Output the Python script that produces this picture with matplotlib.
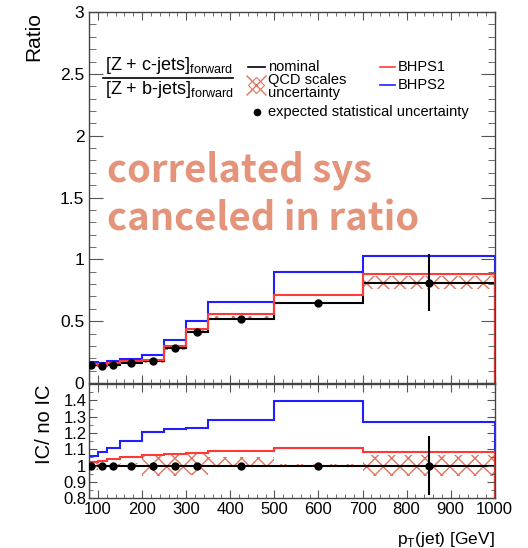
import matplotlib.pyplot as plt
from matplotlib.lines import Line2D
from matplotlib.ticker import MultipleLocator, FuncFormatter
import numpy as np

plt.rcParams['font.family'] = ['Liberation Sans', 'DejaVu Sans']
plt.rcParams['hatch.linewidth'] = 1.0

# pT(jet) bin edges [GeV]
edges = [80, 100, 120, 150, 200, 250, 300, 350, 500, 700, 1000]
pt_points = [85, 110, 135, 175, 225, 275, 325, 425, 600, 850]

# top panel: [Z+c]/[Z+b] ratio
nominal = [0.145, 0.135, 0.145, 0.160, 0.175, 0.285, 0.410, 0.514, 0.648, 0.812]
bhps1 = [0.153, 0.140, 0.159, 0.177, 0.190, 0.300, 0.435, 0.562, 0.710, 0.879]
bhps2 = [0.172, 0.164, 0.177, 0.193, 0.226, 0.347, 0.500, 0.656, 0.898, 1.024]
stat_err = [0.005, 0.005, 0.005, 0.005, 0.005, 0.005, 0.005, 0.005, 0.02, 0.23]

# bottom panel: IC / no IC
ic_bhps1 = [1.021, 1.030, 1.039, 1.051, 1.065, 1.071, 1.075, 1.090, 1.110, 1.085]
ic_bhps2 = [1.061, 1.085, 1.108, 1.148, 1.209, 1.222, 1.228, 1.278, 1.394, 1.268]
ic_nominal = [1.0] * 10
ic_stat_err = [0.005, 0.005, 0.005, 0.005, 0.005, 0.005, 0.005, 0.005, 0.015, 0.18]

# QCD scale uncertainty (relative, up / down)
qcd_up = [0.02, 0.01, 0.01, 0.015, 0.07, 0.07, 0.07, 0.05, 0.01, 0.065]
qcd_dn = [0.03, 0.01, 0.01, 0.015, 0.065, 0.065, 0.06, 0.005, 0.01, 0.065]

red = '#ff3838'
blue = '#1f1fff'
hatch_col = '#e2745a'
note_col = '#e4947a'

fig = plt.figure(figsize=(5.28, 5.48), dpi=100)
ax1 = fig.add_axes([0.169, 0.301, 0.768, 0.677])
ax2 = fig.add_axes([0.169, 0.091, 0.768, 0.208])

nom = np.array(nominal)
up = np.array(qcd_up)
dn = np.array(qcd_dn)

# top panel
ax1.stairs(nom * (1 + up), edges, baseline=nom * (1 - dn), fill=True,
           facecolor='none', edgecolor=hatch_col, hatch='xx', linewidth=0)
ax1.stairs(nominal, edges, color='black', linewidth=1.5)
ax1.stairs(bhps2, edges, color=blue, linewidth=1.5)
ax1.stairs(bhps1, edges, color=red, linewidth=1.5)
ax1.errorbar(pt_points, nominal, yerr=stat_err, fmt='o', color='black',
             markersize=5, elinewidth=1.5, capsize=0, zorder=5)

# bottom panel
ax2.stairs(1 + up, edges, baseline=1 - dn, fill=True,
           facecolor='none', edgecolor=hatch_col, hatch='xx', linewidth=0)
ax2.stairs(ic_nominal, edges, color='black', linewidth=1.5)
ax2.stairs(ic_bhps2, edges, color=blue, linewidth=1.5)
ax2.stairs(ic_bhps1, edges, color=red, linewidth=1.5)
ax2.errorbar(pt_points, ic_nominal, yerr=ic_stat_err, fmt='o', color='black',
             markersize=5, elinewidth=1.5, capsize=0, zorder=5)

fmt = FuncFormatter(lambda v, p: '%g' % round(v, 3))

ax1.set_xlim(80, 1000)
ax1.set_ylim(0, 3)
ax1.xaxis.set_major_locator(MultipleLocator(100))
ax1.xaxis.set_minor_locator(MultipleLocator(20))
ax1.yaxis.set_major_locator(MultipleLocator(0.5))
ax1.yaxis.set_minor_locator(MultipleLocator(0.1))
ax1.yaxis.set_major_formatter(fmt)
ax1.tick_params(axis='x', which='both', labelbottom=False)
ax1.tick_params(axis='x', which='major', length=6)
ax1.tick_params(axis='x', which='minor', length=3)
ax1.tick_params(axis='y', which='major', length=10, labelsize=12.5)
ax1.tick_params(axis='y', which='minor', length=5)
ax1.set_ylabel('Ratio', loc='top', fontsize=15, labelpad=12)

ax2.set_xlim(80, 1000)
ax2.set_ylim(0.8, 1.5)
ax2.xaxis.set_major_locator(MultipleLocator(100))
ax2.xaxis.set_minor_locator(MultipleLocator(20))
ax2.yaxis.set_major_locator(MultipleLocator(0.1))
ax2.yaxis.set_minor_locator(MultipleLocator(0.05))
ax2.yaxis.set_major_formatter(fmt)
ax2.set_yticks([0.8, 0.9, 1.0, 1.1, 1.2, 1.3, 1.4])
ax2.tick_params(axis='both', which='major', labelsize=12)
ax2.tick_params(axis='x', which='major', length=6, pad=3)
ax2.tick_params(axis='x', which='minor', length=3)
ax2.tick_params(axis='y', which='major', length=6, pad=2)
ax2.tick_params(axis='y', which='minor', length=3)
ax2.set_ylabel('IC/ no IC', loc='top', fontsize=14.5, labelpad=7)
ax2.set_xlabel(r'p$_\mathregular{T}$(jet) [GeV]', loc='right', fontsize=12.5,
               labelpad=9)

for ax in (ax1, ax2):
    ax.tick_params(which='both', direction='in', top=True, right=True,
                   color='#555555')
    for s in ax.spines.values():
        s.set_color('#444444')
        s.set_linewidth(1.0)

# fraction label
ax1.text(0.039, 0.857, r'[Z + c-jets]$_\mathregular{forward}$', transform=ax1.transAxes,
         fontsize=13, va='center', ha='left')
ax1.add_line(Line2D([0.034, 0.354], [0.823, 0.823], transform=ax1.transAxes,
                    color='black', linewidth=1.2))
ax1.text(0.039, 0.79, r'[Z + b-jets]$_\mathregular{forward}$', transform=ax1.transAxes,
         fontsize=13, va='center', ha='left')

# legend
leg_fs = 10.5
ax1.add_line(Line2D([0.392, 0.434], [0.853, 0.853], transform=ax1.transAxes,
                    color='black', linewidth=1.2))
ax1.text(0.441, 0.853, 'nominal', transform=ax1.transAxes, fontsize=leg_fs, va='center')
ax1.plot([0.412], [0.804], marker='x', markersize=14, mew=1.0, color=hatch_col,
         transform=ax1.transAxes, clip_on=False)
ax1.plot([0.412], [0.804], marker='D', markersize=8, mew=0.8, mfc='none', color=hatch_col,
         transform=ax1.transAxes, clip_on=False)
ax1.text(0.441, 0.800, 'QCD scales\nuncertainty', transform=ax1.transAxes,
         fontsize=leg_fs, va='center', linespacing=0.95)
ax1.add_line(Line2D([0.717, 0.754], [0.853, 0.853], transform=ax1.transAxes,
                    color=red, linewidth=1.2))
ax1.text(0.761, 0.853, 'BHPS1', transform=ax1.transAxes, fontsize=leg_fs, va='center')
ax1.add_line(Line2D([0.717, 0.754], [0.803, 0.803], transform=ax1.transAxes,
                    color=blue, linewidth=1.2))
ax1.text(0.761, 0.803, 'BHPS2', transform=ax1.transAxes, fontsize=leg_fs, va='center')
ax1.plot([0.414], [0.73], marker='o', markersize=4.5, color='black',
         transform=ax1.transAxes)
ax1.text(0.441, 0.73, 'expected statistical uncertainty', transform=ax1.transAxes,
         fontsize=leg_fs, va='center')

# annotation
for txt, yb in (('correlated sys', 0.543), ('canceled in ratio', 0.412)):
    ax1.text(0.044, yb, txt, transform=ax1.transAxes, fontsize=27.5,
             family=['Noto Sans CJK SC', 'DejaVu Sans'], weight='bold',
             color=note_col, va='baseline', ha='left')

fig.savefig('out.png', dpi=100)
